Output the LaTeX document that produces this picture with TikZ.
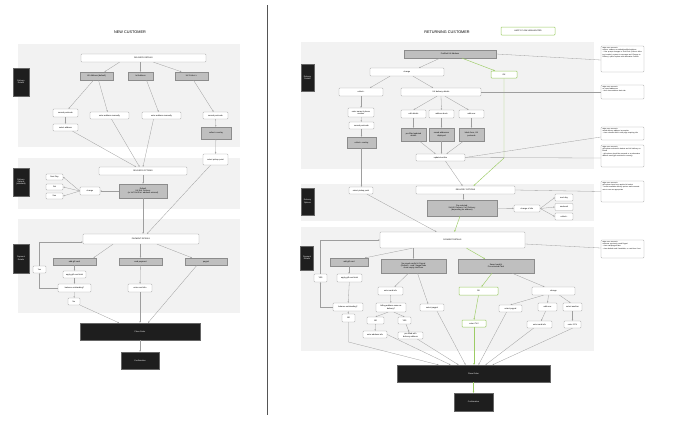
\documentclass[tikz,border=0pt]{standalone}
\usepackage{fontspec}
\setmainfont{Liberation Sans}
\usetikzlibrary{arrows.meta,calc}
\definecolor{panel}{HTML}{F2F2F2}
\definecolor{blk}{HTML}{1E1E1E}
\definecolor{gfill}{HTML}{BFBFBF}
\definecolor{gbord}{HTML}{8C8C8C}
\definecolor{wbord}{HTML}{A6A6A6}
\definecolor{conn}{HTML}{9E9E9E}
\definecolor{hgreen}{HTML}{9CCC65}
\definecolor{divc}{HTML}{555555}
\newcommand\boxfont{\fontsize{2}{2.4}\selectfont}
\newcommand\annfont{\fontsize{1.7}{2.1}\selectfont}
\newcommand\titlefont{\fontsize{3.8}{4.5}\selectfont}
\tikzset{
  wb/.style={draw=wbord, fill=white, rounded corners=0.8pt, line width=0.35pt, inner sep=0pt, align=center, font=\boxfont},
  gb/.style={draw=gbord, fill=gfill, line width=0.35pt, inner sep=0pt, align=center, font=\boxfont},
  bb/.style={draw=black!60, fill=blk, text=white, line width=0.35pt, inner sep=0pt, align=center, font=\boxfont},
  grb/.style={wb, draw=hgreen, line width=0.5pt},
  annbox/.style={draw=wbord, fill=white, rounded corners=0.8pt, line width=0.35pt, inner sep=0pt},
  anntext/.style={align=left, text width=40pt, inner sep=0pt, font=\annfont, anchor=north west},
  ar/.style={draw=conn, line width=0.3pt, -{Stealth[length=1.6pt,width=1.3pt]}},
  gar/.style={draw=hgreen, line width=0.45pt, -{Stealth[length=1.8pt,width=1.5pt]}},
  al/.style={draw=conn, line width=0.3pt},
  ttl/.style={font=\titlefont, inner sep=0pt}
}
\begin{document}
\begin{tikzpicture}[x=1pt,y=-1pt]
\useasboundingbox (0,0) rectangle (677,424);
\fill[white] (0,0) rectangle (677,424);

% ---------------- panels ----------------
\fill[panel] (18,44) rectangle (240,147);
\fill[panel] (18,158) rectangle (240,209);
\fill[panel] (18,219) rectangle (240,313);
\fill[panel] (301,42) rectangle (594,169);
\fill[panel] (301,184) rectangle (594,221);
\fill[panel] (301,227) rectangle (594,351);

% divider
\draw[divc, line width=0.8pt] (267,5) -- (267,415);

% ---------------- LEFT: NEW CUSTOMER ----------------
\node[ttl] (title1) at (130,32) {NEW CUSTOMER};
\node[bb, minimum width=16pt, minimum height=28pt] (lbl1) at (21,82) {Delivery\\Details};
\node[bb, minimum width=16pt, minimum height=28pt] (lbl2) at (21,182) {Delivery\\Options\\(standard)};
\node[bb, minimum width=16pt, minimum height=29pt] (lbl3) at (21,258.5) {Payment\\Details};

\node[wb, minimum width=125pt, minimum height=8pt] (dd) at (143.5,58) {DELIVERY DETAILS};
\node[gb, minimum width=33pt, minimum height=8pt] (ukA) at (96.5,76) {UK Address (default)};
\node[gb, minimum width=25pt, minimum height=8pt] (intA) at (140.5,76) {Int Address};
\node[gb, minimum width=33pt, minimum height=8pt] (ucA) at (191.5,76) {UK Collect +};
\node[wb, minimum width=25pt, minimum height=8pt] (spc) at (65.5,113) {search postcode};
\node[wb, minimum width=25pt, minimum height=7pt] (sad) at (65.5,127.5) {select address};
\node[wb, minimum width=39pt, minimum height=7pt] (eam1) at (109.5,115.5) {enter address manually};
\node[wb, minimum width=39pt, minimum height=7pt] (eam2) at (161.5,115.5) {enter address manually};
\node[wb, minimum width=25pt, minimum height=7pt] (sps) at (215.5,115.5) {search postcode};
\node[gb, minimum width=30pt, minimum height=12pt] (cov) at (216,133) {collect+ overlay};
\node[wb, minimum width=25pt, minimum height=11pt] (spp) at (215.5,159.5) {select pickup point};
\node[wb, minimum width=88pt, minimum height=8pt] (dopt) at (143,171) {DELIVERY OPTIONS};
\node[gb, minimum width=48pt, minimum height=14pt] (dflt) at (143,191) {Default\\UK Std. Delivery\\(or Int'l Std if Int. address entered)};
\node[wb, minimum width=20pt, minimum height=8pt] (chg) at (90,191) {change};
\node[wb, minimum width=17pt, minimum height=6pt] (nday) at (54.5,177) {Next Day};
\node[wb, minimum width=17pt, minimum height=6pt] (sat) at (54.5,187) {Sat};
\node[wb, minimum width=17pt, minimum height=6pt] (sun) at (54.5,196) {Sun};
\node[wb, minimum width=116pt, minimum height=10pt] (pay) at (141,239) {PAYMENT DETAILS};
\node[gb, minimum width=43pt, minimum height=7pt] (agc) at (74.5,261.5) {add gift card};
\node[gb, minimum width=43pt, minimum height=7pt] (cpay) at (140.5,261.5) {card payment};
\node[gb, minimum width=42pt, minimum height=7pt] (ppl) at (206,261.5) {paypal};
\node[wb, minimum width=13pt, minimum height=7pt] (yes1) at (39.5,269.5) {Yes};
\node[wb, minimum width=23pt, minimum height=7pt] (agt) at (74.5,274.5) {apply gift card total};
\node[wb, minimum width=33pt, minimum height=8pt] (bal) at (74.5,288) {balance outstanding?};
\node[wb, minimum width=12pt, minimum height=7pt] (no1) at (74,301.5) {No};
\node[wb, minimum width=24pt, minimum height=8pt] (eci) at (140,288) {enter card info};
\node[bb, minimum width=120pt, minimum height=17pt] (po1) at (140,331.5) {Place Order};
\node[bb, minimum width=38pt, minimum height=17pt] (cf1) at (140,360.5) {Confirmation};

% left connectors
\draw[ar] ([xshift=-24pt]dd.south) -- ([xshift=8pt]ukA.north);
\draw[ar] ([xshift=-3pt]dd.south) -- (intA.north);
\draw[ar] ([xshift=10pt]dd.south) -- ([xshift=-10pt]ucA.north);
\draw[ar] ([xshift=-3pt]ukA.south) -- ([xshift=3pt]spc.north);
\draw[ar] ([xshift=2pt]ukA.south) -- ([xshift=-2pt]eam1.north);
\draw[ar] ([xshift=6pt]intA.south) -- ([xshift=-3pt]eam2.north);
\draw[ar] ([xshift=2pt]ucA.south) -- ([xshift=-2pt]sps.north);
\draw[ar] (spc) -- (sad);
\draw[ar] (sps) -- (cov);
\draw[ar] (cov) -- (spp);
\draw[ar] ([xshift=7pt]sad.south) -- ([xshift=-7pt]dopt.north);
\draw[ar] ([xshift=2pt]eam1.south) -- ([xshift=-3.5pt]dopt.north);
\draw[ar] ([xshift=-8pt]eam2.south) -- (dopt.north);
\draw[ar] ([xshift=-5pt]spp.south) -- ([xshift=6pt]pay.north);
\draw[ar] (dopt) -- (dflt);
\draw[ar] (dflt) -- (chg);
\draw[ar] (chg.west) -- (nday.east);
\draw[ar] (chg.west) -- (sat.east);
\draw[ar] (chg.west) -- (sun.east);
\draw[ar] (dflt.south) -- (dflt.south |- pay.north);
\draw[ar] ([xshift=-28pt]pay.south) -- ([xshift=19pt]agc.north);
\draw[ar] (pay.south -| cpay.north) -- (cpay.north);
\draw[ar] ([xshift=16pt]pay.south) -- ([xshift=-14pt]ppl.north);
\draw[ar] (agc) -- (agt);
\draw[ar] (agt) -- (bal);
\draw[ar] (bal) -- (no1);
\draw[ar] (bal.west) -| (yes1.south);
\draw[ar] (yes1.north) |- ([yshift=-3pt]pay.west);
\draw[ar] (cpay) -- (eci);
\draw[ar] (eci.south) -- (eci.south |- po1.north);
\draw[ar] (no1.south east) -- ([xshift=-21pt]po1.north);
\draw[ar] ([xshift=-9pt]ppl.south) -- ([xshift=8pt]po1.north);
\draw[ar] (po1) -- (cf1);

% ---------------- RIGHT: RETURNING CUSTOMER ----------------
\node[ttl] (title2) at (447,32) {RETURNING CUSTOMER};
\node[grb, minimum width=54pt, minimum height=8pt] (hf) at (528,31) {HAPPY FLOW HIGHLIGHTED};
\node[bb, minimum width=13pt, minimum height=27pt] (lblR1) at (307.5,77.5) {Delivery\\Details};
\node[bb, minimum width=13pt, minimum height=27pt] (lblR2) at (307.5,201.5) {Delivery\\Options};
\node[bb, minimum width=13pt, minimum height=24pt] (lblR3) at (307,258) {Payment\\Details};

\node[gb, minimum width=92pt, minimum height=8pt] (pre) at (450,54) {Prefilled UK Address};
\node[wb, minimum width=74pt, minimum height=8pt] (chg2) at (407,72) {change};
\node[grb, minimum width=26pt, minimum height=7pt] (ok1) at (504,74.5) {OK};
\node[wb, minimum width=44pt, minimum height=8pt] (col) at (361,92) {collect+};
\node[wb, minimum width=80pt, minimum height=8pt] (ukd) at (441,92) {UK delivery details};
\node[wb, minimum width=26pt, minimum height=9pt] (enp) at (361,112.5) {enter name \& phone\\number};
\node[wb, minimum width=25pt, minimum height=7pt] (sc2) at (361.5,125.5) {search postcode};
\node[gb, minimum width=29pt, minimum height=11pt] (cov2) at (361.5,142.5) {collect+ overlay};
\node[wb, minimum width=25pt, minimum height=8pt] (ed) at (413.5,114) {edit details};
\node[wb, minimum width=25pt, minimum height=8pt] (ab) at (441.5,114) {address book};
\node[wb, minimum width=25pt, minimum height=8pt] (an) at (471.5,114) {add new};
\node[gb, minimum width=25pt, minimum height=13pt] (g1) at (413.5,134.5) {pre-filled updated\\details};
\node[gb, minimum width=25pt, minimum height=13pt] (g2) at (441.5,134.5) {saved addresses\\displayed};
\node[gb, minimum width=25pt, minimum height=13pt] (g3) at (471.5,134.5) {blank form, UK\\postcode};
\node[wb, minimum width=49pt, minimum height=7pt] (upd) at (440.5,157.5) {update/confirm};
\node[wb, minimum width=24pt, minimum height=7pt] (spp2) at (361,190.5) {select pickup point};
\node[wb, minimum width=99pt, minimum height=8pt] (dopt2) at (465.5,190) {DELIVERY OPTIONS};
\node[gb, minimum width=70pt, minimum height=16pt] (psel) at (462,208) {Pre-selected:\\Std UK Delivery / Int'l Delivery\\(depending on address)};
\node[wb, minimum width=26pt, minimum height=7pt] (coi) at (527,208.5) {change of info};
\node[wb, minimum width=18pt, minimum height=7pt] (nd2) at (564,197.5) {next day};
\node[wb, minimum width=18pt, minimum height=7pt] (wk2) at (564,207) {weekend};
\node[wb, minimum width=18pt, minimum height=7pt] (cl2) at (564,216.5) {collect+};
\node[wb, minimum width=145pt, minimum height=16pt] (pay2) at (452.5,240) {PAYMENT DETAILS};
\node[gb, minimum width=38pt, minimum height=8pt] (agc2) at (349,262) {add gift card};
\node[gb, minimum width=65pt, minimum height=14pt] (ns) at (413.5,266) {No saved card(s) \& Paypal\\(Default) - card / paypal tabs\\show empty card form};
\node[gb, minimum width=76pt, minimum height=14pt] (sv) at (496,266) {Saved card(s)\\Pre-selected Card};
\node[wb, minimum width=13pt, minimum height=8pt] (yes2) at (320.5,278) {YES};
\node[wb, minimum width=25pt, minimum height=8pt] (agt2) at (349.5,278) {apply gift card total};
\node[wb, minimum width=30pt, minimum height=8pt] (bal2) at (348,307) {balance outstanding?};
\node[wb, minimum width=13pt, minimum height=8pt] (no2) at (348.5,318) {NO};
\node[wb, minimum width=25pt, minimum height=8pt] (eci2) at (390.5,291) {enter card info};
\node[wb, minimum width=30pt, minimum height=9pt] (bil) at (391,307.5) {billing address same as\\delivery?};
\node[wb, minimum width=17pt, minimum height=7pt] (no3) at (375.5,320.5) {NO};
\node[wb, minimum width=13pt, minimum height=7pt] (yes3) at (404.5,320.5) {YES};
\node[wb, minimum width=24pt, minimum height=7pt] (eai) at (375,334.5) {enter address info};
\node[wb, minimum width=25pt, minimum height=7pt] (pfd) at (410.5,335.5) {pre-filled with\\delivery address};
\node[wb, minimum width=24pt, minimum height=7pt] (spl) at (432,307.5) {select paypal};
\node[grb, minimum width=39pt, minimum height=8pt] (ok2) at (478.5,291) {OK};
\node[grb, minimum width=24pt, minimum height=7pt] (cvv1) at (474,323.5) {enter CVV};
\node[wb, minimum width=43pt, minimum height=8pt] (chg3) at (553.5,291) {change};
\node[wb, minimum width=23pt, minimum height=7pt] (spl2) at (510.5,308.5) {select paypal};
\node[wb, minimum width=19pt, minimum height=8pt] (an2) at (547.5,307) {add new};
\node[wb, minimum width=19pt, minimum height=8pt] (sa) at (572.5,307) {select another};
\node[wb, minimum width=25pt, minimum height=7pt] (eci3) at (539.5,324.5) {enter card info};
\node[wb, minimum width=17pt, minimum height=7pt] (cvv2) at (572.5,324.5) {enter CVV};
\node[bb, minimum width=153pt, minimum height=17pt] (po2) at (473.5,373.5) {Place Order};
\node[bb, minimum width=39pt, minimum height=18pt] (cf2) at (473.5,402) {Confirmation};

% annotations
\node[annbox, minimum width=43pt, minimum height=26pt] (ann1) at (622.5,59) {};
\node[anntext] at ([shift={(1.5pt,-1.5pt)}]ann1.north west) {edge case scenario:\\custom. address as default/prefilled address\\- if the prompt changes to 'Sold Out' (Collect+ Missing Location), system to message and 'Change to Delivery' option replace with alternative Collect+};
\node[annbox, minimum width=43pt, minimum height=14pt] (ann2) at (622.5,92) {};
\node[anntext] at ([shift={(1.5pt,-1.5pt)}]ann2.north west) {edge case scenario:\\no saved addresses\\- don't show address book tab};
\node[annbox, minimum width=43pt, minimum height=13pt] (ann3) at (622.5,133.5) {};
\node[anntext] at ([shift={(1.5pt,-1.5pt)}]ann3.north west) {edge case scenario:\\saved delivery address incomplete\\- show relevant field in edit page requiring info};
\node[annbox, minimum width=43pt, minimum height=22pt] (ann4) at (622.5,156) {};
\node[anntext] at ([shift={(1.5pt,-1.5pt)}]ann4.north west) {edge case scenario:\\gift options selected in basket and int'l delivery selected\\- gift options should be removed or an alternative address used (gift restricted to country)};
\node[annbox, minimum width=43pt, minimum height=21pt] (ann5) at (622.5,191.5) {};
\node[anntext] at ([shift={(1.5pt,-1.5pt)}]ann5.north west) {edge case scenario:\\gift options have been applied in basket\\- restrict available delivery options and communicate to user as appropriate};
\node[annbox, minimum width=43pt, minimum height=18pt] (ann6) at (622.5,249) {};
\node[anntext] at ([shift={(1.5pt,-1.5pt)}]ann6.north west) {edge case scenario:\\customer previously used Paypal\\- show card/paypal tabs\\- show default card if available, or card form if not};

% right connectors: delivery details
\draw[ar] ([xshift=-10pt]pre.south) -- ([xshift=12pt]chg2.north);
\draw[gar] ([xshift=12pt]pre.south) -- ([xshift=-9pt]ok1.north);
\draw[ar] ([xshift=-17pt]chg2.south) -- ([xshift=9pt]col.north);
\draw[ar] ([xshift=6pt]chg2.south) -- ([xshift=-8pt]ukd.north);
\draw[ar] ([xshift=-4pt]ukd.south) -- (ed.north);
\draw[ar] (ukd.south) -- (ab.north);
\draw[ar] ([xshift=4pt]ukd.south) -- ([xshift=-3pt]an.north);
\draw[ar] (col) -- (enp);
\draw[ar] (enp) -- (sc2);
\draw[ar] (sc2) -- (cov2);
\draw[ar] (cov2.south) -- (cov2.south |- spp2.north);
\draw[ar] (ed) -- (g1);
\draw[ar] (ab) -- (g2);
\draw[ar] (an) -- (g3);
\draw[ar] ([xshift=6pt]g1.south) -- ([xshift=-5pt]upd.north);
\draw[ar] (g2.south) -- (g2.south |- upd.north);
\draw[ar] ([xshift=-8pt]g3.south) -- ([xshift=6pt]upd.north);
\draw[ar] ([xshift=5pt]upd.south) -- ([xshift=-3pt]dopt2.north);
\coordinate (okb) at (504,158);
\draw[gar] (ok1.south) -- (okb) -- ([xshift=8pt]dopt2.north);
\draw[ar] ([xshift=6pt]spp2.south) -- ([xshift=-16pt]pay2.north);
\draw[ar] ([xshift=-2pt]dopt2.south) -- ([xshift=1.5pt]psel.north);
\draw[ar] (psel) -- (coi);
\draw[ar] (coi.east) -- (nd2.west);
\draw[ar] (coi.east) -- (wk2.west);
\draw[ar] (coi.east) -- (cl2.west);
\draw[gar] ([xshift=-2pt]psel.south) -- ([xshift=2pt]pay2.north);

% annotation links
\draw[al] (pre.east) -- ([yshift=-1pt]ann1.west);
\draw[al] (ukd.east) -- (ann2.west);
\draw[al] (upd.east) -- ([yshift=-3.5pt]ann3.west);
\draw[al] (upd.east) -- ([yshift=-2pt]ann4.west);
\draw[al] (dopt2.east) -- (ann5.west);
\draw[al] ([yshift=-4pt]pay2.east) -- ([yshift=1pt]ann6.west);

% right connectors: payment
\draw[ar] ([xshift=-40pt]pay2.south) -- ([xshift=16pt]agc2.north);
\draw[ar] (pay2.south -| ns.north) -- (ns.north);
\draw[gar] ([xshift=14pt]pay2.south) -- ([xshift=-11pt]sv.north);
\draw[ar] (agc2.south) -- (agc2.south |- agt2.north);
\draw[ar] (agt2) -- (bal2);
\draw[ar] (bal2) -- (no2);
\coordinate (nob) at (348.5,342);
\draw[ar] (no2.south) -- (nob) -- ([xshift=-35pt]po2.north);
\draw[ar] (bal2.west) -| (yes2.south);
\draw[ar] (yes2.north) |- (pay2.west);
\draw[ar] ([xshift=-5pt]ns.south) -- ([xshift=4pt]eci2.north);
\draw[ar] ([xshift=4pt]ns.south) -- ([xshift=-4pt]spl.north);
\draw[ar] (eci2) -- (bil);
\draw[ar] ([xshift=-3pt]bil.south) -- (no3.north);
\draw[ar] ([xshift=3pt]bil.south) -- (yes3.north);
\draw[ar] (no3) -- (eai);
\draw[ar] (yes3) -- (pfd);
\draw[ar] (eai.east) -- ([xshift=-23pt]po2.north);
\draw[ar] ([xshift=7pt]pfd.south) -- ([xshift=-15pt]po2.north);
\draw[ar] ([xshift=5pt]spl.south) -- ([xshift=-8pt]po2.north);
\draw[gar] ([xshift=-4pt]sv.south) -- ([xshift=3pt]ok2.north);
\draw[ar] ([xshift=16pt]sv.south) -- ([xshift=-9pt]chg3.north);
\draw[gar] (ok2.south) -- (cvv1.north);
\draw[gar] (cvv1.south) -- (cvv1.south |- po2.north);
\draw[ar] ([xshift=-10pt]chg3.south) -- (spl2.north);
\draw[ar] ([xshift=-5pt]chg3.south) -- (an2.north);
\draw[ar] ([xshift=6pt]chg3.south) -- ([xshift=-2pt]sa.north);
\draw[ar] (an2) -- (eci3);
\draw[ar] (sa) -- (cvv2);
\draw[ar] ([xshift=-4pt]spl2.south) -- ([xshift=5pt]po2.north);
\draw[ar] ([xshift=-6pt]eci3.south) -- ([xshift=12pt]po2.north);
\draw[ar] (cvv2.south) -- ([xshift=19pt]po2.north);
\draw[gar] (po2) -- (cf2);
\end{tikzpicture}
\end{document}
